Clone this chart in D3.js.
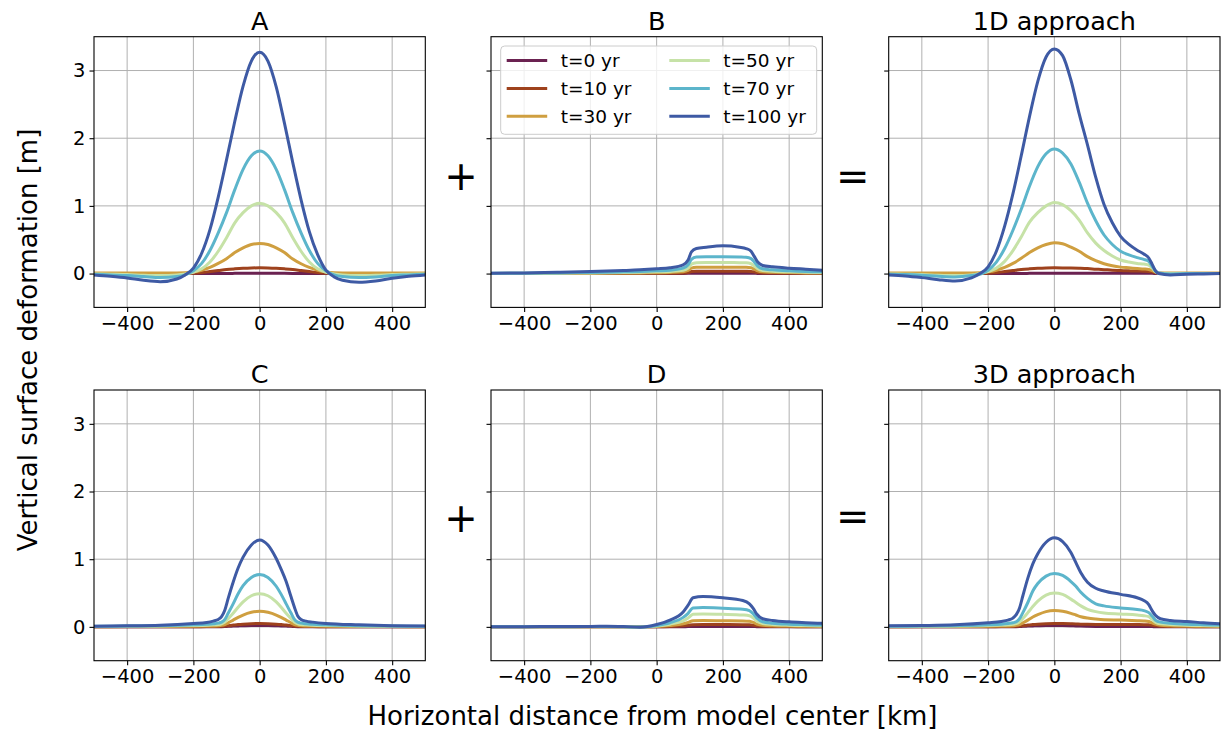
<!DOCTYPE html>
<html>
<head>
<meta charset="utf-8">
<script src="https://cdn.jsdelivr.net/npm/d3@7"></script>
<style>
body { margin: 0; background: #fff; }
text { font-family: "DejaVu Sans", sans-serif; fill: #000; }
</style>
</head>
<body>
<script>
var W = 1222, H = 731;

var years = ["t=0 yr", "t=10 yr", "t=30 yr", "t=50 yr", "t=70 yr", "t=100 yr"];
var colors = ["#6b2251", "#9e421d", "#cf9f40", "#c6e2a7", "#5cb5cb", "#3e5aa4"];
var titles = ["A", "B", "1D approach", "C", "D", "3D approach"];
var xTicks = [-400, -200, 0, 200, 400];
var yTicks = [0, 1, 2, 3];

// panel A
var xA = [-500,-450,-400,-350,-300,-250,-225,-200,-175,-150,-125,-100,-75,-50,-25,0,25,50,75,100,125,150,175,200,225,250,300,350,400,450,500];
var yA = [
  [0,0,0,0,0,0,0,0,0,0,0,0.002,0.003,0.004,0.004,0.004,0.004,0.004,0.003,0.002,0,0,0,0,0,0,0,0,0,0,0],
  [0,0,0,0,0,0,0,0.005,0.015,0.03,0.045,0.06,0.07,0.078,0.083,0.085,0.083,0.078,0.07,0.06,0.045,0.03,0.015,0.005,0,0,0,0,0,0,0],
  [0.01,0.01,0.01,0.01,0.01,0.01,0.012,0.025,0.05,0.09,0.15,0.22,0.31,0.38,0.43,0.445,0.43,0.38,0.31,0.215,0.145,0.09,0.05,0.025,0.012,0.01,0.01,0.01,0.01,0.01,0.01],
  [-0.005,-0.01,-0.015,-0.025,-0.03,-0.02,-0.005,0.02,0.07,0.17,0.33,0.53,0.75,0.9,1.0,1.04,1.0,0.9,0.75,0.53,0.33,0.17,0.07,0.02,-0.005,-0.02,-0.03,-0.025,-0.015,-0.01,-0.005],
  [-0.01,-0.02,-0.03,-0.045,-0.06,-0.045,-0.02,0.04,0.15,0.34,0.6,0.9,1.24,1.54,1.74,1.81,1.74,1.54,1.24,0.9,0.6,0.34,0.15,0.04,-0.02,-0.045,-0.06,-0.05,-0.03,-0.02,-0.01],
  [-0.02,-0.04,-0.065,-0.1,-0.12,-0.08,-0.02,0.08,0.3,0.65,1.13,1.68,2.25,2.77,3.14,3.27,3.14,2.76,2.22,1.64,1.09,0.62,0.28,0.05,-0.05,-0.1,-0.13,-0.11,-0.07,-0.04,-0.02]
];

// panel B
var xB = [-500,-400,-300,-200,-100,-50,0,40,80,95,105,120,150,200,250,270,285,295,305,320,350,400,450,500];
var yB = [
  [0,0,0,0,0,0,0,0,0.001,0.003,0.005,0.006,0.006,0.006,0.006,0.006,0.006,0.004,0.002,0.001,0,0,0,0],
  [0,0,0.001,0.001,0.002,0.003,0.004,0.005,0.008,0.015,0.03,0.034,0.035,0.035,0.035,0.034,0.032,0.025,0.015,0.009,0.007,0.005,0.004,0.003],
  [0.001,0.002,0.003,0.005,0.008,0.01,0.013,0.017,0.027,0.045,0.08,0.092,0.095,0.095,0.093,0.092,0.085,0.065,0.04,0.025,0.02,0.014,0.01,0.008],
  [0.002,0.004,0.006,0.01,0.015,0.02,0.025,0.032,0.05,0.08,0.14,0.16,0.165,0.165,0.16,0.158,0.145,0.11,0.07,0.045,0.035,0.025,0.02,0.015],
  [0.003,0.006,0.01,0.017,0.025,0.03,0.04,0.05,0.08,0.13,0.21,0.245,0.25,0.25,0.245,0.24,0.22,0.17,0.11,0.07,0.055,0.04,0.03,0.025],
  [0.005,0.01,0.02,0.03,0.045,0.055,0.07,0.085,0.13,0.2,0.32,0.37,0.39,0.41,0.39,0.37,0.33,0.25,0.17,0.12,0.1,0.08,0.065,0.05]
];

// 1D approach
var x1D = [-500,-450,-400,-350,-300,-250,-225,-200,-175,-150,-125,-100,-75,-50,-25,0,25,50,75,100,125,150,175,200,225,250,270,285,295,305,315,350,400,450,500];
var y1D = [
  [0,0,0,0,0,0,0,0,0,0,0,0.002,0.003,0.004,0.004,0.004,0.004,0.004,0.004,0.005,0.006,0.006,0.006,0.006,0.006,0.006,0.006,0.005,0.004,0.002,0,0,0,0,0],
  [0,0,0,0,0,0,0.002,0.005,0.015,0.03,0.045,0.06,0.07,0.078,0.083,0.085,0.084,0.082,0.078,0.073,0.065,0.058,0.05,0.045,0.04,0.037,0.035,0.032,0.025,0.01,0.003,0,0,0,0],
  [0.01,0.01,0.01,0.01,0.01,0.01,0.012,0.025,0.05,0.09,0.15,0.225,0.31,0.38,0.43,0.455,0.44,0.39,0.33,0.25,0.19,0.145,0.115,0.095,0.085,0.075,0.068,0.06,0.045,0.02,0.01,0.01,0.01,0.01,0.01],
  [-0.005,-0.01,-0.015,-0.025,-0.03,-0.02,0,0.03,0.08,0.18,0.34,0.54,0.76,0.9,1.0,1.05,1.02,0.93,0.79,0.6,0.45,0.34,0.26,0.2,0.17,0.15,0.14,0.125,0.085,0.03,0.005,0,0,0,0],
  [-0.01,-0.015,-0.025,-0.04,-0.05,-0.03,-0.01,0.05,0.17,0.37,0.64,0.95,1.29,1.58,1.77,1.84,1.78,1.62,1.35,1.04,0.78,0.57,0.43,0.33,0.275,0.235,0.21,0.18,0.11,0.04,0.01,-0.005,0,0,0],
  [-0.02,-0.035,-0.06,-0.09,-0.11,-0.065,0,0.1,0.33,0.7,1.18,1.74,2.32,2.84,3.2,3.32,3.22,2.86,2.36,1.9,1.42,1.02,0.75,0.55,0.43,0.345,0.29,0.23,0.14,0.045,0,-0.02,-0.01,-0.005,0]
];

// panel C
var xC = [-500,-400,-300,-200,-160,-140,-125,-115,-105,-95,-80,-65,-50,-25,0,25,50,65,80,95,105,115,125,140,160,200,300,400,500];
var yC = [
  [0,0,0,0.001,0.001,0.002,0.002,0.003,0.005,0.008,0.011,0.014,0.016,0.019,0.02,0.019,0.016,0.014,0.011,0.008,0.005,0.003,0.002,0.002,0.001,0.001,0,0,0],
  [0.001,0.001,0.002,0.003,0.004,0.005,0.006,0.008,0.012,0.018,0.026,0.034,0.04,0.047,0.05,0.047,0.04,0.034,0.026,0.018,0.012,0.008,0.006,0.005,0.004,0.003,0.002,0.001,0.001],
  [0.003,0.004,0.006,0.01,0.012,0.014,0.017,0.022,0.035,0.06,0.1,0.14,0.175,0.215,0.23,0.215,0.175,0.14,0.1,0.06,0.035,0.022,0.017,0.014,0.012,0.01,0.006,0.004,0.003],
  [0.005,0.008,0.012,0.02,0.025,0.03,0.035,0.045,0.07,0.12,0.2,0.29,0.37,0.46,0.49,0.46,0.37,0.29,0.2,0.12,0.07,0.045,0.035,0.03,0.025,0.02,0.012,0.008,0.005],
  [0.008,0.012,0.018,0.03,0.038,0.045,0.055,0.07,0.11,0.2,0.34,0.49,0.61,0.73,0.775,0.73,0.6,0.48,0.34,0.2,0.11,0.07,0.055,0.045,0.038,0.03,0.018,0.012,0.008],
  [0.01,0.015,0.025,0.05,0.065,0.085,0.11,0.15,0.25,0.42,0.66,0.87,1.03,1.21,1.285,1.21,1.01,0.85,0.67,0.44,0.29,0.16,0.11,0.085,0.07,0.05,0.03,0.018,0.012]
];

// panel D
var xD = [-500,-400,-300,-200,-150,-100,-50,0,40,80,95,110,140,200,260,280,292,302,320,350,400,450,500];
var yD = [
  [0,0,0,0,0,0,0,0,0.001,0.003,0.004,0.006,0.006,0.006,0.006,0.006,0.005,0.003,0.001,0,0,0,0],
  [0,0,0,0,0,0,0,0.002,0.007,0.016,0.024,0.033,0.035,0.034,0.033,0.031,0.025,0.016,0.009,0.006,0.004,0.003,0.002],
  [0,0,0.001,0.001,0.001,0,-0.001,0.005,0.02,0.045,0.065,0.09,0.093,0.09,0.087,0.082,0.065,0.042,0.024,0.017,0.012,0.009,0.007],
  [0,0.001,0.002,0.003,0.003,0.001,-0.002,0.012,0.04,0.09,0.13,0.185,0.19,0.185,0.175,0.165,0.13,0.085,0.05,0.035,0.025,0.02,0.016],
  [0,0.002,0.003,0.004,0.005,0.002,-0.003,0.02,0.06,0.14,0.2,0.28,0.285,0.275,0.26,0.24,0.19,0.13,0.075,0.055,0.04,0.033,0.027],
  [0,0.003,0.005,0.007,0.008,0.004,-0.005,0.035,0.1,0.22,0.32,0.43,0.45,0.43,0.39,0.34,0.27,0.19,0.12,0.095,0.074,0.062,0.052]
];

// 3D approach
var x3D = [-500,-400,-300,-200,-160,-140,-125,-115,-105,-95,-80,-65,-50,-25,0,25,50,65,80,100,125,150,200,250,270,285,295,305,320,350,400,450,500];
var y3D = [
  [0,0,0,0.001,0.001,0.002,0.002,0.003,0.005,0.008,0.011,0.014,0.016,0.019,0.02,0.019,0.016,0.014,0.012,0.009,0.007,0.006,0.006,0.006,0.006,0.005,0.004,0.002,0.001,0,0,0,0],
  [0.001,0.001,0.002,0.003,0.004,0.005,0.006,0.008,0.012,0.018,0.026,0.034,0.04,0.047,0.05,0.049,0.046,0.043,0.04,0.038,0.036,0.035,0.035,0.034,0.033,0.031,0.025,0.016,0.009,0.006,0.004,0.003,0.002],
  [0.003,0.004,0.006,0.01,0.012,0.014,0.017,0.022,0.035,0.06,0.1,0.145,0.18,0.225,0.24,0.23,0.2,0.175,0.15,0.13,0.115,0.105,0.1,0.092,0.088,0.08,0.06,0.04,0.024,0.017,0.012,0.009,0.007],
  [0.005,0.008,0.012,0.02,0.026,0.031,0.037,0.047,0.075,0.125,0.21,0.3,0.38,0.47,0.5,0.48,0.41,0.36,0.31,0.26,0.225,0.205,0.19,0.175,0.165,0.15,0.11,0.07,0.045,0.035,0.025,0.02,0.016],
  [0.008,0.012,0.018,0.03,0.04,0.05,0.06,0.075,0.12,0.21,0.36,0.53,0.64,0.75,0.79,0.76,0.67,0.6,0.51,0.42,0.34,0.31,0.28,0.255,0.24,0.21,0.16,0.1,0.07,0.055,0.04,0.032,0.026],
  [0.015,0.02,0.03,0.06,0.08,0.1,0.13,0.18,0.28,0.46,0.72,0.93,1.08,1.25,1.315,1.26,1.1,0.95,0.8,0.66,0.57,0.53,0.48,0.43,0.39,0.33,0.24,0.17,0.12,0.095,0.08,0.06,0.045]
];

var panels = [
  {row: 0, col: 0, xs: xA, ys: yA},
  {row: 0, col: 1, xs: xB, ys: yB},
  {row: 0, col: 2, xs: x1D, ys: y1D},
  {row: 1, col: 0, xs: xC, ys: yC},
  {row: 1, col: 1, xs: xD, ys: yD},
  {row: 1, col: 2, xs: x3D, ys: y3D}
];

var colX = [94, 491, 888.7],
    rowY = [36.7, 390],
    pw = 331.3,
    ph = 270.7;

var svg = d3.select("body").append("svg")
    .attr("width", W)
    .attr("height", H);

var x = d3.scaleLinear().domain([-500, 500]).range([0, pw]);
var y = d3.scaleLinear().domain([-0.5, 3.5]).range([ph, 0]);

var line = d3.line()
    .x(function(d) { return x(d[0]); })
    .y(function(d) { return y(d[1]); })
    .curve(d3.curveMonotoneX);

panels.forEach(function(p, k) {
  var g = svg.append("g")
      .attr("transform", "translate(" + colX[p.col] + "," + rowY[p.row] + ")");

  // grid
  g.selectAll(".gx").data(xTicks).enter().append("line")
      .attr("x1", function(d) { return x(d); })
      .attr("x2", function(d) { return x(d); })
      .attr("y1", 0).attr("y2", ph)
      .attr("stroke", "#b0b0b0").attr("stroke-width", 1);
  g.selectAll(".gy").data(yTicks).enter().append("line")
      .attr("y1", function(d) { return y(d); })
      .attr("y2", function(d) { return y(d); })
      .attr("x1", 0).attr("x2", pw)
      .attr("stroke", "#b0b0b0").attr("stroke-width", 1);

  g.append("clipPath").attr("id", "clip" + k)
    .append("rect").attr("width", pw).attr("height", ph);

  g.append("g").attr("clip-path", "url(#clip" + k + ")")
    .selectAll("path").data(p.ys).enter().append("path")
      .attr("d", function(s) { return line(p.xs.map(function(v, i) { return [v, s[i]]; })); })
      .attr("fill", "none")
      .attr("stroke", function(s, i) { return colors[i]; })
      .attr("stroke-width", 3)
      .attr("stroke-linejoin", "round");

  g.append("rect")
      .attr("width", pw).attr("height", ph)
      .attr("fill", "none").attr("stroke", "#000").attr("stroke-width", 1.1);

  var xAxis = g.append("g")
      .attr("transform", "translate(0," + ph + ")")
      .call(d3.axisBottom(x).tickValues(xTicks).tickSize(4.5).tickPadding(4));
  var yAxis = g.append("g")
      .call(d3.axisLeft(y).tickValues(yTicks).tickSize(4.5).tickPadding(4)
        .tickFormat(p.col == 0 ? d3.format("d") : function() { return ""; }));
  [xAxis, yAxis].forEach(function(a) {
    a.select(".domain").remove();
    a.attr("font-family", null).attr("font-size", null);
    a.selectAll("text").style("font-size", "19.5px");
    a.selectAll("line").attr("stroke", "#000").attr("stroke-width", 1.1);
  });

  g.append("text")
      .attr("x", pw / 2).attr("y", -7.2)
      .attr("text-anchor", "middle")
      .style("font-size", "25.5px")
      .text(titles[k]);
});

// operators between panels
var ops = [{s: "+", cx: 461, cy: 177.7}, {s: "=", cx: 852.7, cy: 177.2},
           {s: "+", cx: 461, cy: 519}, {s: "=", cx: 852.7, cy: 517.8}];
svg.selectAll(".op").data(ops).enter().append("text")
    .attr("x", function(d) { return d.cx; })
    .attr("y", function(d) { return d.cy + 12.5; })
    .attr("text-anchor", "middle")
    .style("font-size", "40px")
    .text(function(d) { return d.s; });

// legend inside panel B
var lg = svg.append("g");
lg.append("rect")
    .attr("x", 500.7).attr("y", 46)
    .attr("width", 316).attr("height", 88.3)
    .attr("rx", 4)
    .attr("fill", "#fff").attr("fill-opacity", 0.8)
    .attr("stroke", "#cccccc").attr("stroke-width", 1);
var items = lg.selectAll(".it").data(years).enter().append("g")
    .attr("transform", function(d, i) {
      var c = Math.floor(i / 3), r = i % 3;
      return "translate(" + (c == 0 ? 506.7 : 669.3) + "," + [60.5, 88.5, 116.3][r] + ")";
    });
items.append("line")
    .attr("x1", 0).attr("x2", 40.5)
    .attr("stroke", function(d, i) { return colors[i]; })
    .attr("stroke-width", 3);
items.append("text")
    .attr("x", 54).attr("dy", "0.35em")
    .style("font-size", "18.5px")
    .text(function(d) { return d; });

// axis labels
svg.append("text")
    .attr("x", 652.5).attr("y", 725)
    .attr("text-anchor", "middle")
    .style("font-size", "26px")
    .text("Horizontal distance from model center [km]");
svg.append("text")
    .attr("transform", "translate(36.5,340) rotate(-90)")
    .attr("text-anchor", "middle")
    .style("font-size", "26px")
    .text("Vertical surface deformation [m]");
</script>
</body>
</html>
